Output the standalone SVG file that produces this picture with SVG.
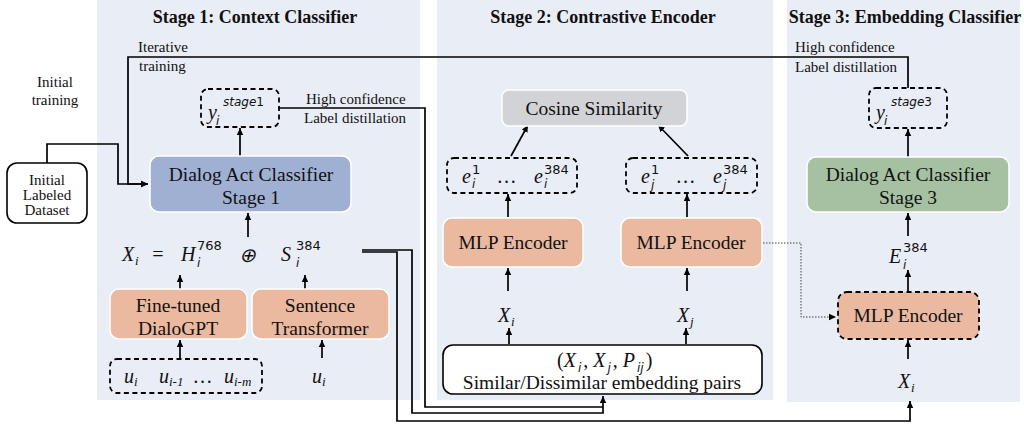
<svg xmlns="http://www.w3.org/2000/svg" width="1024" height="425" viewBox="0 0 1024 425">
<defs>
<marker id="ah" markerUnits="userSpaceOnUse" markerWidth="8" markerHeight="8" refX="7" refY="4" orient="auto">
<path d="M0,0.8 L7,4 L0,7.2 Z" fill="#000"/>
</marker>
<style>
.panel{fill:#e9edf6}
.title{font-family:"Liberation Serif",serif;font-weight:bold;font-size:18px;fill:#111}
.lbl{font-family:"Liberation Serif",serif;font-size:15px;fill:#111}
.box{font-family:"Liberation Serif",serif;font-size:19.5px;fill:#111;text-anchor:middle}
.m{font-family:"Liberation Serif",serif;font-style:italic;font-size:20px;fill:#111}
.ms{font-family:"Liberation Serif",serif;font-style:italic;font-size:13px;fill:#111}
.sup{font-family:"DejaVu Sans",sans-serif;font-size:13px;fill:#111}
.supi{font-family:"DejaVu Sans",sans-serif;font-style:italic;font-size:12px;fill:#111}
.c{fill:none;stroke:#000;stroke-width:1.7}
.a{fill:none;stroke:#000;stroke-width:1.7;marker-end:url(#ah)}
.dash{fill:none;stroke:#000;stroke-width:1.8;stroke-dasharray:5,3.5}
.salmon{fill:#ebb9a0;stroke:#fff;stroke-width:1.5}
</style>
</defs>

<!-- panels -->
<rect class="panel" x="97" y="0" width="323" height="400"/>
<rect class="panel" x="437" y="0" width="336" height="400"/>
<rect class="panel" x="787" y="0" width="233" height="402"/>

<text class="title" x="255" y="23" text-anchor="middle">Stage 1: Context Classifier</text>
<text class="title" x="603" y="23" text-anchor="middle">Stage 2: Contrastive Encoder</text>
<text class="title" x="905" y="23" text-anchor="middle">Stage 3: Embedding Classifier</text>

<!-- free labels -->
<text class="lbl" x="55" y="87" text-anchor="middle">Initial</text>
<text class="lbl" x="55" y="105" text-anchor="middle">training</text>
<text class="lbl" x="138" y="52">Iterative</text>
<text class="lbl" x="139" y="71">training</text>
<text class="lbl" x="306" y="104">High confidence</text>
<text class="lbl" x="304" y="123">Label distillation</text>
<text class="lbl" x="795" y="52">High confidence</text>
<text class="lbl" x="795" y="72">Label distillation</text>

<!-- connectors -->
<g id="connectors">
<path class="a" d="M908,88 V57 H128 V184 H148"/>
<path class="a" d="M47,163 V144 H118 V184 H148"/>
<path class="c" d="M279,108 H425 V407 H603"/>
<path class="a" d="M362,250 H412 V413 H603 V396"/>
<path class="a" d="M362,252 H397 V421 H910 V401"/>
<path class="a" d="M240,156 V128"/>
<path class="a" d="M248,237 V213"/>
<path class="a" d="M180,289 V275"/>
<path class="a" d="M305,289 V275"/>
<path class="a" d="M180,358 V340"/>
<path class="a" d="M322,358 V340"/>
<path class="a" d="M511,156 L528,125"/>
<path class="a" d="M688,156 L658,125"/>
<path class="a" d="M508,217 V194"/>
<path class="a" d="M687,217 V194"/>
<path class="a" d="M508,291 V268"/>
<path class="a" d="M687,291 V268"/>
<path class="a" d="M509,344 V328"/>
<path class="a" d="M686,344 V328"/>
<path class="a" d="M908,157 V129"/>
<path class="a" d="M908,236 V213"/>
<path class="a" d="M908,292 V270"/>
<path class="a" d="M908,359 V340"/>
<path fill="none" stroke="#444" stroke-width="1" stroke-dasharray="1.5,1.5" d="M763,243 H801 V317 H836" marker-end="url(#ah)"/>
</g>

<!-- Stage 1 nodes -->
<g id="dataset">
<rect x="7" y="163" width="80" height="60" rx="10" fill="#fff" stroke="#000" stroke-width="1.6"/>
<text class="lbl" x="47" y="185" text-anchor="middle" font-size="13">Initial</text>
<text class="lbl" x="47" y="200" text-anchor="middle" font-size="13">Labeled</text>
<text class="lbl" x="47" y="215" text-anchor="middle" font-size="13">Dataset</text>
</g>

<g id="y-stage1">
<rect class="dash" x="201" y="89" width="78" height="38" rx="7"/>
<text class="m" x="208" y="119" font-size="22">y</text>
<text class="supi" x="216" y="125" font-size="13">i</text>
<text class="supi" x="223" y="106" font-size="14">stage<tspan font-style="normal">1</tspan></text>
</g>

<g id="classifier1">
<rect x="150" y="156" width="201" height="56" rx="9" fill="#9fb0d3" stroke="#fff" stroke-width="1.5"/>
<text class="box" x="251" y="181">Dialog Act Classifier</text>
<text class="box" x="251" y="204">Stage 1</text>
</g>

<g id="concat">
<text class="m" x="122" y="261">X</text>
<text class="ms" x="135" y="265">i</text>
<text class="m" x="151" y="261" font-style="normal">=</text>
<text class="m" x="181" y="261">H</text>
<text class="supi" x="197" y="267" font-size="13">i</text>
<text class="sup" x="197" y="250">768</text>
<text class="m" x="239" y="262" font-style="normal" font-size="22">⊕</text>
<text class="m" x="281" y="261">S</text>
<text class="supi" x="296" y="267" font-size="13">i</text>
<text class="sup" x="296" y="250">384</text>
</g>

<g id="dialogpt">
<rect class="salmon" x="110" y="289" width="137" height="50" rx="9"/>
<text class="box" x="178" y="312">Fine-tuned</text>
<text class="box" x="178" y="335">DialoGPT</text>
</g>

<g id="sentence-transformer">
<rect class="salmon" x="252" y="289" width="137" height="50" rx="9"/>
<text class="box" x="320" y="312">Sentence</text>
<text class="box" x="320" y="335">Transformer</text>
</g>

<g id="context-utterances">
<rect class="dash" x="110" y="359" width="152" height="34" rx="7"/>
<text class="m" x="124" y="383">u</text>
<text class="ms" x="134" y="386">i</text>
<text class="m" x="159" y="383">u</text>
<text class="ms" x="169" y="386">i-1</text>
<text class="m" x="194" y="383" font-style="normal">…</text>
<text class="m" x="224" y="383">u</text>
<text class="ms" x="234" y="386">i-m</text>
</g>

<g id="ui">
<text class="m" x="312" y="383">u</text>
<text class="ms" x="322" y="386">i</text>
</g>

<!-- Stage 2 nodes -->
<g id="cosine">
<rect x="502" y="90" width="185" height="36" rx="7" fill="#d1d3d7" stroke="#fff" stroke-width="1.5"/>
<text class="box" x="594" y="115">Cosine Similarity</text>
</g>

<g id="ei">
<rect class="dash" x="447" y="158" width="130" height="35" rx="7"/>
<text class="m" x="462" y="183">e</text>
<text class="supi" x="472" y="188" font-size="13">i</text>
<text class="sup" x="472" y="174" font-size="14">1</text>
<text class="m" x="498" y="183" font-style="normal">…</text>
<text class="m" x="534" y="183">e</text>
<text class="supi" x="544" y="188" font-size="13">i</text>
<text class="sup" x="544" y="174" font-size="14">384</text>
</g>

<g id="ej">
<rect class="dash" x="626" y="158" width="131" height="35" rx="7"/>
<text class="m" x="641" y="183">e</text>
<text class="supi" x="651" y="189" font-size="13">j</text>
<text class="sup" x="651" y="174" font-size="14">1</text>
<text class="m" x="677" y="183" font-style="normal">…</text>
<text class="m" x="713" y="183">e</text>
<text class="supi" x="723" y="189" font-size="13">j</text>
<text class="sup" x="723" y="174" font-size="14">384</text>
</g>

<g id="mlp-i">
<rect class="salmon" x="443" y="218" width="140" height="49" rx="9"/>
<text class="box" x="513" y="249">MLP Encoder</text>
</g>

<g id="mlp-j">
<rect class="salmon" x="621" y="218" width="141" height="49" rx="9"/>
<text class="box" x="691" y="249">MLP Encoder</text>
</g>

<g id="xi2">
<text class="m" x="498" y="322">X</text>
<text class="ms" x="511" y="326">i</text>
</g>
<g id="xj2">
<text class="m" x="677" y="322">X</text>
<text class="ms" x="690" y="326">j</text>
</g>

<g id="pairs">
<rect x="443" y="345" width="319" height="49" rx="10" fill="#fff" stroke="#000" stroke-width="1.6"/>
<text class="m" x="557" y="367"><tspan font-style="normal">(</tspan>X<tspan dx="2" dy="5" font-size="12" font-family="DejaVu Sans, sans-serif">i</tspan><tspan dx="2" dy="-5" font-style="normal">, </tspan>X<tspan dx="2" dy="5" font-size="12" font-family="DejaVu Sans, sans-serif">j</tspan><tspan dx="2" dy="-5" font-style="normal">, </tspan>P<tspan dx="2" dy="5" font-size="12" font-family="DejaVu Sans, sans-serif">ij</tspan><tspan dx="2" dy="-5" font-style="normal">)</tspan></text>
<text class="box" x="602" y="389">Similar/Dissimilar embedding pairs</text>
</g>

<!-- Stage 3 nodes -->
<g id="y-stage3">
<rect class="dash" x="869" y="88" width="78" height="40" rx="7"/>
<text class="m" x="876" y="119" font-size="22">y</text>
<text class="supi" x="884" y="125" font-size="13">i</text>
<text class="supi" x="891" y="106" font-size="14">stage<tspan font-style="normal">3</tspan></text>
</g>

<g id="classifier3">
<rect x="807" y="157" width="202" height="55" rx="9" fill="#a6c1a1" stroke="#fff" stroke-width="1.5"/>
<text class="box" x="908" y="181">Dialog Act Classifier</text>
<text class="box" x="908" y="204">Stage 3</text>
</g>

<g id="ei3">
<text class="m" x="889" y="263">E</text>
<text class="supi" x="903" y="269" font-size="13">i</text>
<text class="sup" x="903" y="252">384</text>
</g>

<g id="mlp3">
<rect x="838" y="292" width="141" height="47" rx="9" fill="#ebb9a0" stroke="#000" stroke-width="1.8" stroke-dasharray="5,3.5"/>
<text class="box" x="908" y="322">MLP Encoder</text>
</g>

<g id="xi3">
<text class="m" x="898" y="388">X</text>
<text class="ms" x="911" y="392">i</text>
</g>
</svg>
